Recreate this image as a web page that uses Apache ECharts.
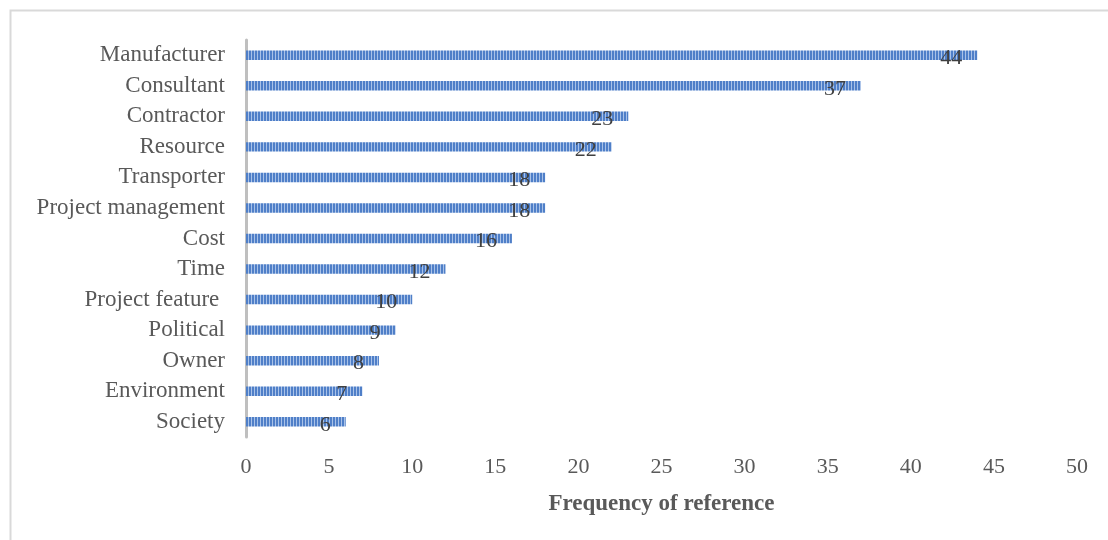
<!DOCTYPE html>
<html>
<head>
<meta charset="utf-8">
<script src="https://cdn.jsdelivr.net/npm/echarts@6/dist/echarts.min.js"></script>
<style>
  html, body { margin: 0; padding: 0; background: #fff; }
  #chart { width: 1108px; height: 540px; }
</style>
</head>
<body>
<div id="chart"></div>
<script>
const categories = ['Manufacturer', 'Consultant', 'Contractor', 'Resource', 'Transporter',
  'Project management', 'Cost', 'Time', 'Project feature ', 'Political', 'Owner',
  'Environment', 'Society'];
const frequency = [44, 37, 23, 22, 18, 18, 16, 12, 10, 9, 8, 7, 6];
const xTicks = { min: 0, max: 50, step: 5 };

// striped fill for the bars: blue with thin light vertical lines
const stripe = document.createElement('canvas');
stripe.width = 3; stripe.height = 4;
const sctx = stripe.getContext('2d');
sctx.fillStyle = '#4f7fc8';
sctx.fillRect(0, 0, 3, 4);
sctx.fillStyle = '#a9c2e8';
sctx.fillRect(2, 0, 1, 4);

const serif = '"Liberation Serif", "Times New Roman", serif';
const chart = echarts.init(document.getElementById('chart'));
chart.setOption({
  animation: false,
  backgroundColor: '#fff',
  graphic: [{
    type: 'rect',
    shape: { x: 10.5, y: 10.5, width: 1120, height: 560 },
    style: { fill: 'none', stroke: '#d9d9d9', lineWidth: 2 },
    silent: true
  }],
  grid: { left: 246, right: 31, top: 40, bottom: 103 },
  xAxis: {
    type: 'value',
    min: xTicks.min, max: xTicks.max, interval: xTicks.step,
    name: 'Frequency of reference',
    nameLocation: 'middle',
    nameGap: 56,
    nameTextStyle: { fontFamily: serif, fontSize: 23, fontWeight: 'bold', color: '#595959' },
    axisLine: { show: false },
    axisTick: { show: false },
    splitLine: { show: false },
    axisLabel: { fontFamily: serif, fontSize: 22, color: '#595959', margin: 19 }
  },
  yAxis: {
    type: 'category',
    data: categories,
    inverse: true,
    axisLine: { show: true, lineStyle: { color: '#bfbfbf', width: 3 } },
    axisTick: { show: false },
    axisLabel: {
      fontFamily: serif, fontSize: 23, color: '#595959', margin: 21,
      padding: [5, 0, 0, 0]
    }
  },
  series: [{
    type: 'bar',
    data: frequency,
    barWidth: '31%',
    itemStyle: { color: { image: stripe, repeat: 'repeat' } },
    label: {
      show: true,
      position: 'insideRight',
      distance: 15,
      offset: [0, 3],
      fontFamily: serif,
      fontSize: 22,
      color: '#404040'
    }
  }]
});
</script>
</body>
</html>
